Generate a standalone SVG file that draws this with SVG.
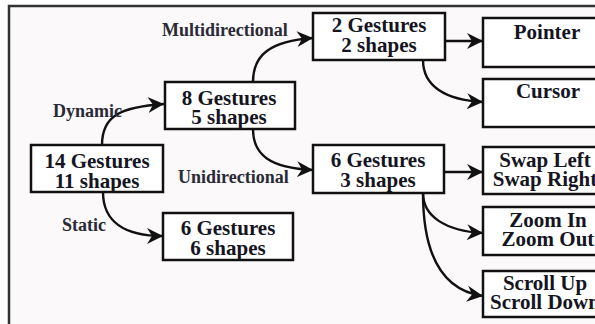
<svg xmlns="http://www.w3.org/2000/svg" width="595" height="324" viewBox="0 0 595 324">
  <style>
    .box { fill: #ffffff; stroke: #111111; stroke-width: 2.5; }
    .t { font-family: "Liberation Serif", "Times New Roman", serif; font-weight: bold; font-size: 21px; fill: #15151f; text-anchor: middle; }
    .lbl { font-family: "Liberation Serif", "Times New Roman", serif; font-weight: bold; font-size: 18px; fill: #2a2a35; }
    .edge { fill: none; stroke: #111111; stroke-width: 2.4; marker-end: url(#arrow); }
  </style>
  <defs>
    <marker id="arrow" markerUnits="userSpaceOnUse" markerWidth="18" markerHeight="18" refX="16" refY="8" orient="auto">
      <path d="M0,0 L16,8 L0,16 L5,8 Z" fill="#111111"/>
    </marker>
  </defs>

  <rect x="0" y="0" width="595" height="324" fill="#ffffff"/>
  <!-- outer frame -->
  <rect x="9" y="6" width="600" height="330" fill="#fbf9fa" stroke="#333333" stroke-width="2.5"/>

  <!-- connectors -->
  <g id="connectors">
    <path class="edge" d="M102,145 C102,116 120,107 164,104"/>
    <path class="edge" d="M103,192 C103,222 125,236 163,236"/>
    <path class="edge" d="M253,82 C253,55 270,41 313,38"/>
    <path class="edge" d="M253,129 C253,155 270,168 313,170"/>
    <path class="edge" d="M445,41 L483,41"/>
    <path class="edge" d="M423,60 C423,86 445,100 483,102"/>
    <path class="edge" d="M444,172 L483,172"/>
    <path class="edge" d="M423,193 C423,216 445,231 483,233"/>
    <path class="edge" d="M423,193 C423,252 440,290 483,296"/>
  </g>

  <!-- edge labels -->
  <g id="labels">
    <text class="lbl" x="162" y="36">Multidirectional</text>
    <text class="lbl" x="53" y="117">Dynamic</text>
    <text class="lbl" x="178" y="183">Unidirectional</text>
    <text class="lbl" x="62" y="231">Static</text>
  </g>

  <!-- nodes -->
  <g id="n14">
    <rect class="box" x="31" y="145" width="132" height="47"/>
    <text class="t" x="97" y="168">14 Gestures</text>
    <text class="t" x="97" y="188">11 shapes</text>
  </g>
  <g id="n8">
    <rect class="box" x="165" y="82" width="130" height="47"/>
    <text class="t" x="229" y="105">8 Gestures</text>
    <text class="t" x="229" y="124">5 shapes</text>
  </g>
  <g id="n6static">
    <rect class="box" x="163" y="213" width="130" height="47"/>
    <text class="t" x="228" y="235">6 Gestures</text>
    <text class="t" x="228" y="255">6 shapes</text>
  </g>
  <g id="n2">
    <rect class="box" x="313" y="13" width="132" height="47"/>
    <text class="t" x="379" y="32">2 Gestures</text>
    <text class="t" x="379" y="52">2 shapes</text>
  </g>
  <g id="n6uni">
    <rect class="box" x="313" y="145" width="131" height="48"/>
    <text class="t" x="378" y="167">6 Gestures</text>
    <text class="t" x="378" y="187">3 shapes</text>
  </g>
  <g id="pointer">
    <rect class="box" x="483" y="18" width="126" height="49"/>
    <text class="t" x="547" y="39">Pointer</text>
  </g>
  <g id="cursor">
    <rect class="box" x="483" y="79" width="126" height="48"/>
    <text class="t" x="548" y="98">Cursor</text>
  </g>
  <g id="swap">
    <rect class="box" x="483" y="147" width="126" height="47"/>
    <text class="t" x="545" y="167">Swap Left</text>
    <text class="t" x="545" y="186">Swap Right</text>
  </g>
  <g id="zoom">
    <rect class="box" x="483" y="207" width="126" height="48"/>
    <text class="t" x="548" y="227">Zoom In</text>
    <text class="t" x="548" y="246">Zoom Out</text>
  </g>
  <g id="scroll">
    <rect class="box" x="483" y="271" width="126" height="46"/>
    <text class="t" x="545" y="290">Scroll Up</text>
    <text class="t" x="545" y="309">Scroll Down</text>
  </g>
</svg>
